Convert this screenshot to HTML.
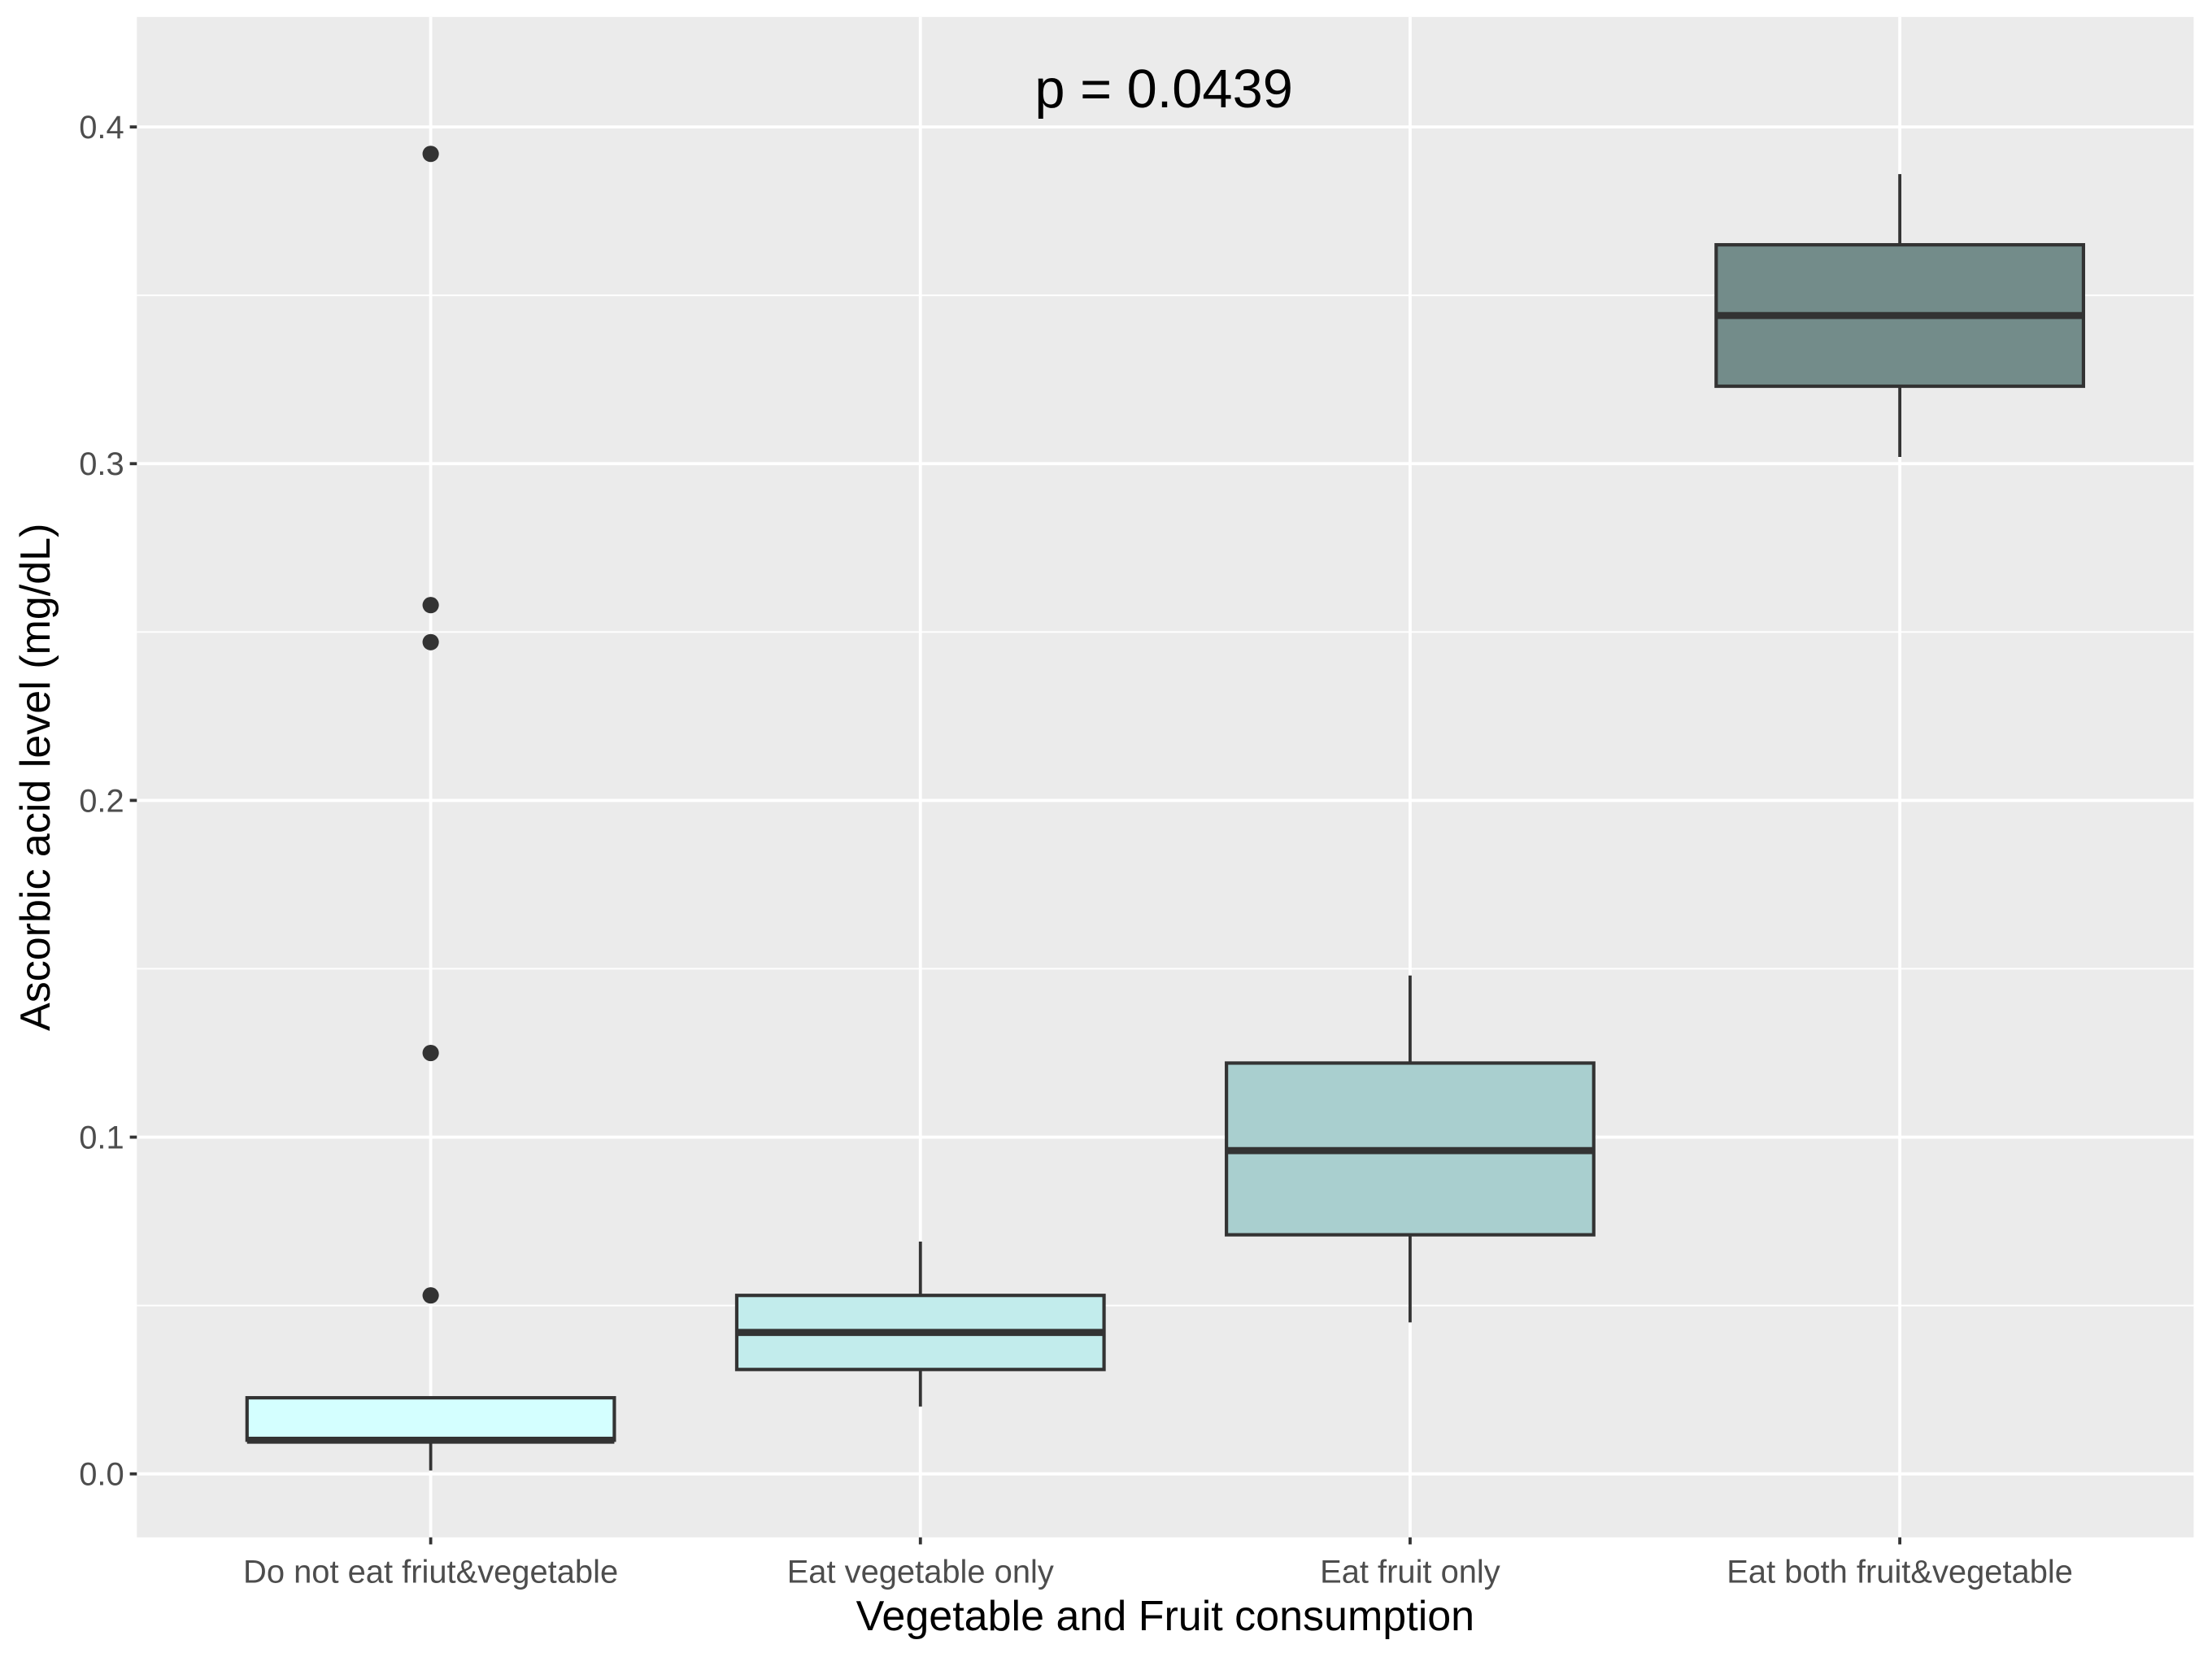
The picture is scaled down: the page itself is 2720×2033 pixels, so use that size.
<!DOCTYPE html>
<html><head><meta charset="utf-8"><style>
html,body{margin:0;padding:0;background:#fff}
svg{display:block;font-family:"Liberation Sans",Arial,sans-serif}
</style></head><body>
<svg id="chart" width="2720" height="2033" viewBox="0 0 1568 1172" xmlns="http://www.w3.org/2000/svg">
<rect x="97" y="12" width="1458" height="1078" fill="#ebebeb"/>
<g id="grid"></g>
<g id="marks"></g>
<g id="axes"></g>
<text x="825" y="76" font-size="38.5" text-anchor="middle" fill="#000">p = 0.0439</text>
<text x="826" y="1156" font-size="30" text-anchor="middle" fill="#000">Vegetable and Fruit consumption</text>
<text transform="translate(35,551) rotate(-90)" font-size="30" text-anchor="middle" fill="#000">Ascorbic acid level (mg/dL)</text>
</svg>
<script>
const categories = ["Do not eat friut&vegetable","Eat vegetable only","Eat fruit only","Eat both fruit&vegetable"];
const whiskerLow = [0.001, 0.020, 0.045, 0.302];
const q1 = [0.010, 0.031, 0.071, 0.323];
const medians = [0.010, 0.042, 0.096, 0.344];
const q3 = [0.0226, 0.053, 0.122, 0.365];
const whiskerHigh = [0.0226, 0.069, 0.148, 0.386];
const outliers = [[0.053, 0.125, 0.247, 0.258, 0.392], [], [], []];
const fills = ["#d4ffff", "#c2ecec", "#a9cfcf", "#738c8a"];
const yTicks = [0.0, 0.1, 0.2, 0.3, 0.4];
const yTickLabels = ["0.0", "0.1", "0.2", "0.3", "0.4"];

const NS = "http://www.w3.org/2000/svg";
const L = 97, R = 1555, T = 12, B = 1090;
function y(v){ return 1045 - v * 2387.5; }
const bandW = (R - L) / (categories.length - 1 + 1.2);
function x(i){ return L + bandW * (i + 0.6); }
const halfBox = bandW * 0.375;
function mk(tag, attrs, parent){
  const e = document.createElementNS(NS, tag);
  for (const k in attrs) e.setAttribute(k, attrs[k]);
  parent.appendChild(e);
  return e;
}
const grid = document.getElementById('grid'), marks = document.getElementById('marks'), axes = document.getElementById('axes');
for (let i = 0; i < yTicks.length - 1; i++) {
  const m = (yTicks[i] + yTicks[i+1]) / 2;
  const g = mk('line', {x1:L, x2:R, y1:y(m), y2:y(m), stroke:'#fff', 'stroke-width':1.1}, grid);
  
  
}
yTicks.forEach((t, i) => {
  const g = mk('line', {x1:L, x2:R, y1:y(t), y2:y(t), stroke:'#fff', 'stroke-width':2.2}, grid);
  
  
  const tk = mk('line', {x1:L-5, x2:L, y1:y(t), y2:y(t), stroke:'#333', 'stroke-width':2.2}, axes);
  
  
  const lb = mk('text', {x:L-9, y:y(t)+8, 'font-size':23, 'text-anchor':'end', fill:'#4d4d4d'}, axes);
  lb.textContent = yTickLabels[i];
  
  
});
categories.forEach((c, i) => {
  const cx = x(i);
  const g = mk('line', {x1:cx, x2:cx, y1:T, y2:B, stroke:'#fff', 'stroke-width':2.2}, grid);
  
  
  const tk = mk('line', {x1:cx, x2:cx, y1:B, y2:B+5, stroke:'#333', 'stroke-width':2.2}, axes);
  
  
  const lb = mk('text', {x:cx, y:B+32, 'font-size':23, 'text-anchor':'middle', fill:'#4d4d4d'}, axes);
  lb.textContent = c;
  
  

  const grp = mk('g', {}, marks);
  
  
  const w1 = mk('line', {x1:cx, x2:cx, y1:y(whiskerLow[i]), y2:y(q1[i]), stroke:'#333', 'stroke-width':2.2}, grp);
  
  
  const w2 = mk('line', {x1:cx, x2:cx, y1:y(whiskerHigh[i]), y2:y(q3[i]), stroke:'#333', 'stroke-width':2.2}, grp);
  
  
  const bx = mk('rect', {x:cx-halfBox, y:y(q3[i]), width:2*halfBox, height:y(q1[i])-y(q3[i]), fill:fills[i], stroke:'#333', 'stroke-width':2.4}, grp);
  
  
  const md = mk('line', {x1:cx-halfBox, x2:cx+halfBox, y1:y(medians[i]), y2:y(medians[i]), stroke:'#333', 'stroke-width':5}, grp);
  
  
  outliers[i].forEach(v => {
    const p = mk('circle', {cx:cx, cy:y(v), r:5.8, fill:'#333'}, grp);
    
    
  });
});
</script>
</body></html>
